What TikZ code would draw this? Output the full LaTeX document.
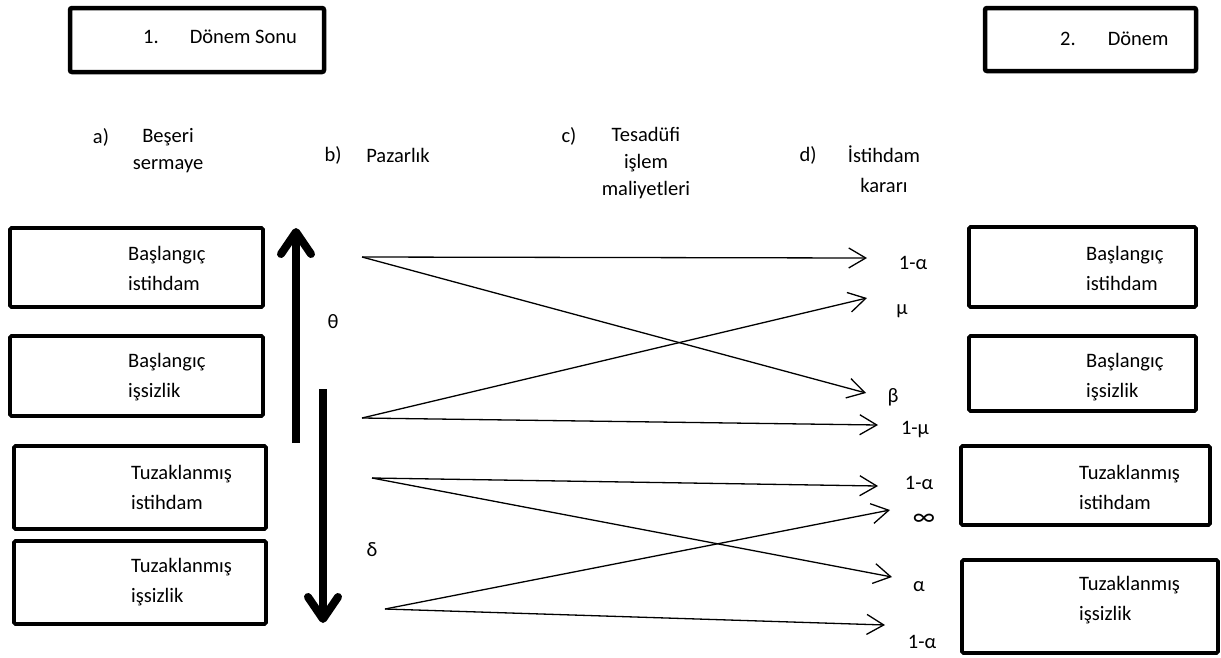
\documentclass[tikz,border=0pt]{standalone}
\usepackage{fontspec}
\setmainfont{Carlito}
\usetikzlibrary{arrows.meta}

\begin{document}
\begin{tikzpicture}[x=1pt, y=-1pt,
    period/.style={draw, line width=4.5pt, rounded corners=2pt, inner sep=0pt},
    state/.style={draw, line width=3.8pt, rounded corners=1.5pt, inner sep=0pt},
    statetext/.style={font=\fontsize{20.5}{30}\selectfont, align=left,
      anchor=west, inner sep=0pt},
    head/.style={font=\fontsize{20.5}{27}\selectfont, align=center, inner sep=0pt},
    prob/.style={font=\fontsize{20.5}{24}\selectfont, inner sep=0pt},
    flow/.style={-{Straight Barb[length=17pt, width=20pt]}, line width=1.3pt},
    bigmove/.style={-{Straight Barb[round, length=22pt, width=30pt]},
      line width=8pt},
]
\useasboundingbox (0,0) rectangle (1221,657);

% Periods
\node[period, minimum width=254pt, minimum height=64pt] (P1) at (197,40) {};
\node[font=\fontsize{20.5}{24}\selectfont, anchor=west, inner sep=0pt] (P1t)
    at (143,37) {1.\hspace{31pt}Dönem Sonu};
\node[period, minimum width=211pt, minimum height=63pt] (P2) at (1090.5,39.5) {};
\node[font=\fontsize{20.5}{24}\selectfont, anchor=west, inner sep=0pt] (P2t)
    at (1060,39) {2.\hspace{32pt}Dönem};

% Stages
\node[head] (Ha) at (101,137) {a)};
\node[head] (HaT) at (168,151) {Beşeri\\sermaye};
\node[head] (Hb) at (333,155) {b)};
\node[head] (HbT) at (398,155) {Pazarlık};
\node[head] (Hc) at (569,136) {c)};
\node[head] (HcT) at (646,163) {Tesadüfi\\işlem\\maliyetleri};
\node[head] (Hd) at (808,155) {d)};
\node[head, font=\fontsize{20.5}{30}\selectfont] (HdT) at (884,169) {İstihdam\\kararı};

% End of period 1
\node[state, minimum width=253pt, minimum height=79pt] (L1) at (136.5,267.5) {};
\node[statetext] (L1t) at (128,268) {Başlangıç\\istihdam};
\node[state, minimum width=253pt, minimum height=80pt] (L2) at (136.5,376) {};
\node[statetext] (L2t) at (128,377) {Başlangıç\\işsizlik};
\node[state, minimum width=252pt, minimum height=83pt] (L3) at (140,487.5) {};
\node[statetext] (L3t) at (131,487) {Tuzaklanmış\\istihdam};
\node[state, minimum width=252pt, minimum height=83pt] (L4) at (140,582.5) {};
\node[statetext] (L4t) at (131,582) {Tuzaklanmış\\işsizlik};

% Period 2
\node[state, minimum width=227pt, minimum height=80pt] (R1) at (1082.5,267) {};
\node[statetext] (R1t) at (1086,268) {Başlangıç\\istihdam};
\node[state, minimum width=227pt, minimum height=75pt] (R2) at (1082.5,373.5) {};
\node[statetext] (R2t) at (1086,377) {Başlangıç\\işsizlik};
\node[state, minimum width=249pt, minimum height=79pt] (R3) at (1085.5,485.5) {};
\node[statetext] (R3t) at (1079,487) {Tuzaklanmış\\istihdam};
\node[state, minimum width=256pt, minimum height=93pt] (R4) at (1090,606.5) {};
\node[statetext] (R4t) at (1079,600) {Tuzaklanmış\\işsizlik};

% theta / delta
\coordinate (upS) at (296,443);
\coordinate (upE) at (296,228);
\coordinate (dnS) at (323,389);
\coordinate (dnE) at (323,623);
\draw[bigmove] (upS) -- (upE);
\draw[bigmove] (dnS) -- (dnE);
\node[prob] (theta) at (333,322) {θ};
\node[prob] (delta) at (372,550) {δ};

% Transitions
\coordinate (s1) at (362,257);
\coordinate (s2) at (362,418);
\coordinate (s3) at (372,478);
\coordinate (s4) at (385,609);
\coordinate (e1) at (867,258);
\coordinate (e2) at (866,393);
\coordinate (e3) at (867,298);
\coordinate (e4) at (878,425);
\coordinate (e5) at (878,486);
\coordinate (e6) at (892,577);
\coordinate (e7) at (890,510);
\coordinate (e8) at (885,625);
\draw[flow] (s1) -- (e1);
\draw[flow] (s1) -- (e2);
\draw[flow] (s2) -- (e3);
\draw[flow] (s2) -- (e4);
\draw[flow] (s3) -- (e5);
\draw[flow] (s3) -- (e6);
\draw[flow] (s4) -- (e7);
\draw[flow] (s4) -- (e8);

\node[prob] (p1) at (913,263) {1-α};
\node[prob] (p2) at (902,311) {μ};
\node[prob] (p3) at (893,397) {β};
\node[prob] (p4) at (915,430) {1-μ};
\node[prob] (p5) at (919,483) {1-α};
\node[prob, font=\fontsize{26}{28}\selectfont] (p6) at (924,520) {∞};
\node[prob] (p7) at (919,587) {α};
\node[prob] (p8) at (922,642) {1-α};
\end{tikzpicture}
\end{document}
